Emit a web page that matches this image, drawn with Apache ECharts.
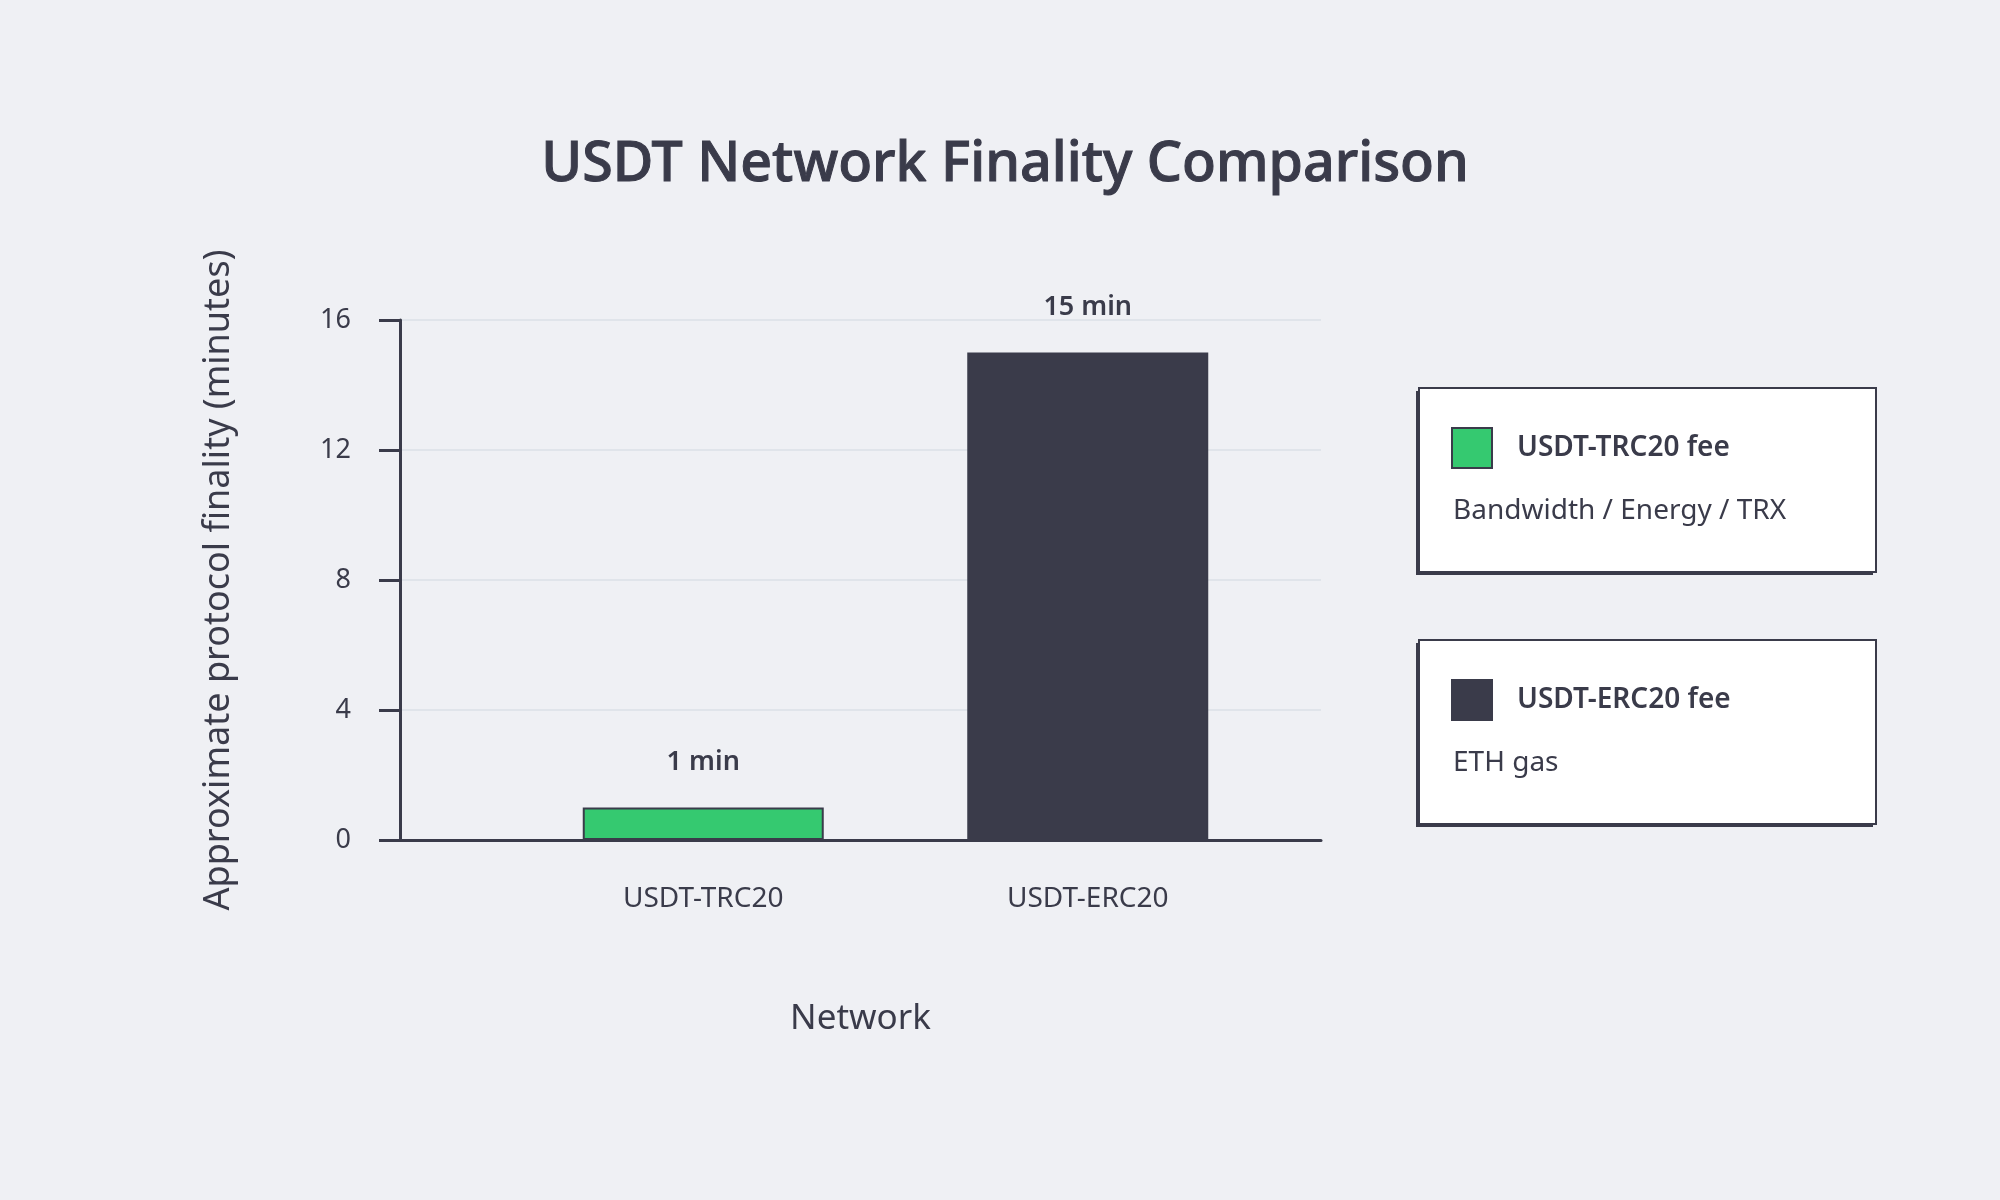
<!DOCTYPE html>
<html>
<head>
<meta charset="utf-8">
<title>USDT Network Finality Comparison</title>
<script src="https://cdn.jsdelivr.net/npm/echarts@6/dist/echarts.min.js"></script>
<style>
  html, body { margin: 0; padding: 0; background: #eff0f4; }
  #chart { width: 2000px; height: 1200px; }
</style>
</head>
<body>
<div id="chart"></div>
<script>
// data
var networks = ['USDT-TRC20', 'USDT-ERC20'];
var finality = [1, 15];
var valueLabels = ['1 min', '15 min'];
var legendNames = ['USDT-TRC20 fee', 'USDT-ERC20 fee'];
var legendNotes = ['Bandwidth / Energy / TRX', 'ETH gas'];
var yMin = 0, yMax = 16, yStep = 4;

var ink = '#3a3b4a';
var green = '#35c970';
var dark = '#3a3b4a';
var gridLine = '#e0e4ea';
var font = '"Noto Sans", sans-serif';
var barColors = [green, dark];

var chart = echarts.init(document.getElementById('chart'), null, { renderer: 'canvas' });

// legend cards on the right (offset dark block behind gives the hard shadow)
var legendItems = [];
legendNames.forEach(function(name, i) {
  var top = 388 + i * 252;
  legendItems.push({
    type: 'rect',
    shape: { x: 1416, y: top + 3, width: 457, height: 184 },
    style: { fill: ink }
  });
  legendItems.push({
    type: 'rect',
    shape: { x: 1419, y: top, width: 457, height: 184 },
    style: { fill: '#ffffff', stroke: ink, lineWidth: 2 }
  });
  legendItems.push({
    type: 'rect',
    shape: { x: 1452, y: top + 40, width: 40, height: 40 },
    style: { fill: barColors[i], stroke: ink, lineWidth: 2 }
  });
  legendItems.push({
    type: 'text',
    x: 1517, y: top + 60,
    style: {
      text: name, fill: ink, font: '600 28px ' + font,
      textVerticalAlign: 'middle'
    }
  });
  legendItems.push({
    type: 'text',
    x: 1453, y: top + 123,
    style: {
      text: legendNotes[i], fill: ink, font: '400 28px ' + font,
      textVerticalAlign: 'middle'
    }
  });
});

chart.setOption({
  animation: false,
  backgroundColor: '#eff0f4',
  textStyle: { fontFamily: font, color: ink },
  title: {
    text: 'USDT Network Finality Comparison',
    left: 1000, top: 132, textAlign: 'center',
    textStyle: {
      fontSize: 55.5, fontWeight: 500, color: ink, fontFamily: font,
      textBorderColor: ink, textBorderWidth: 1
    }
  },
  grid: [
    { left: 400, width: 921, top: 320, bottom: 360 },
    { left: 511, width: 769, top: 320, bottom: 360 }
  ],
  xAxis: [{
    gridIndex: 0,
    type: 'value', min: 0, max: 1,
    name: 'Network', nameLocation: 'middle', nameGap: 162,
    nameTextStyle: { fontSize: 35, color: ink, fontFamily: font },
    axisLine: { show: true, lineStyle: { color: ink, width: 3 } },
    axisTick: { show: false },
    axisLabel: { show: false },
    splitLine: { show: false }
  }, {
    gridIndex: 1,
    type: 'category', data: networks,
    axisLine: { show: false },
    axisTick: { show: false },
    axisLabel: { margin: 45, fontSize: 28, color: ink, fontFamily: font },
    splitLine: { show: false }
  }],
  yAxis: [{
    gridIndex: 0,
    type: 'value', min: yMin, max: yMax, interval: yStep,
    name: 'Approximate protocol finality (minutes)',
    nameLocation: 'middle', nameGap: 163, nameRotate: 90,
    nameTextStyle: { fontSize: 36, color: ink, fontFamily: font },
    axisLine: { show: true, lineStyle: { color: ink, width: 3 } },
    axisTick: { show: true, length: 21, lineStyle: { color: ink, width: 3 } },
    axisLabel: { margin: 49, fontSize: 27, color: ink, fontFamily: font },
    splitLine: { show: true, lineStyle: { color: gridLine, width: 2 } }
  }, {
    gridIndex: 1,
    type: 'value', min: yMin, max: yMax, interval: yStep,
    show: false
  }],
  series: [{
    type: 'bar',
    xAxisIndex: 1, yAxisIndex: 1,
    barWidth: 241,
    data: finality.map(function(v, i) {
      return {
        value: v,
        itemStyle: { color: barColors[i], borderColor: ink, borderWidth: 2 }
      };
    }),
    label: {
      show: true, position: 'top', distance: 32,
      formatter: function(p) { return valueLabels[p.dataIndex]; },
      fontSize: 27, fontWeight: 600, color: ink, fontFamily: font
    }
  }],
  graphic: legendItems
});
window.addEventListener('resize', function() { chart.resize(); });
</script>
</body>
</html>
